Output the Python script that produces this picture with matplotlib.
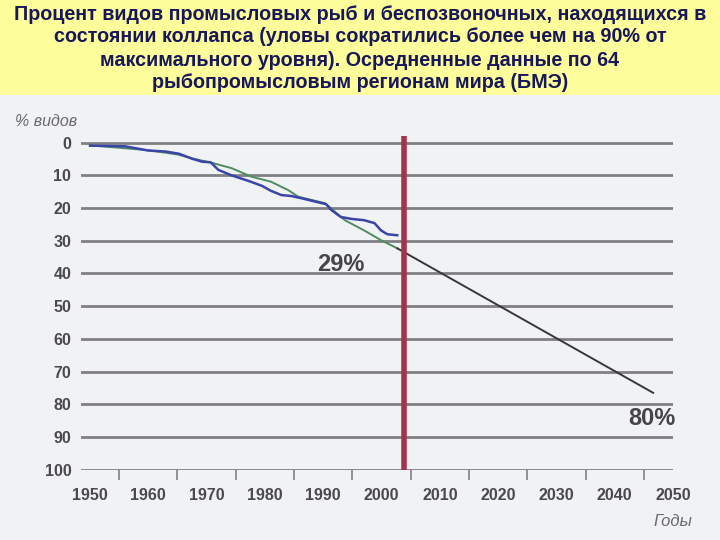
import matplotlib
matplotlib.use("Agg")
import matplotlib.pyplot as plt
from matplotlib.patches import Rectangle

# ------------------ fonts ------------------
plt.rcParams['font.family'] = ['Liberation Sans Narrow', 'Liberation Sans', 'DejaVu Sans']

# ------------------ data ------------------
title_lines = [
    "Процент видов промысловых рыб и беспозвоночных, находящихся в",
    "состоянии коллапса (уловы сократились более чем на 90% от",
    "максимального уровня). Осредненные данные по 64",
    "рыбопромысловым регионам мира (БМЭ)",
]

# observed (blue)
obs_years = [1950, 1956, 1960, 1963, 1965.3, 1967.5, 1969.2, 1970.7, 1972, 1974.3,
             1977.2, 1979.5, 1981, 1982.8, 1984.5, 1986.3, 1988.6, 1990.5, 1991.4,
             1993, 1994.8, 1997, 1998.8, 1999.9, 2001, 2002.7]
obs_pct = [0.9, 1.1, 2.4, 2.7, 3.4, 4.9, 5.8, 6.0, 8.3, 10.0,
           11.7, 13.2, 14.7, 16.0, 16.3, 17.0, 18.0, 18.8, 20.6,
           22.7, 23.3, 23.7, 24.6, 26.8, 28.0, 28.3]

# model fit (green)
fit_years = [1950, 1960, 1965, 1968, 1971, 1974.3, 1977.7, 1981, 1984, 1985.7,
             1990.3, 1993.7, 1997, 1999.9, 2002.7]
fit_pct = [0.8, 2.3, 3.6, 5.0, 6.2, 7.8, 10.4, 11.9, 14.5, 16.5,
           18.5, 23.7, 26.8, 29.8, 32.3]

# projection (dark)
proj_years = [2002.7, 2046.6]
proj_pct = [32.3, 76.5]

now_year = 2003.8
y_ticks = [0, 10, 20, 30, 40, 50, 60, 70, 80, 90, 100]
x_ticks = [1950, 1960, 1970, 1980, 1990, 2000, 2010, 2020, 2030, 2040, 2050]
x_minor = [1955, 1960, 1965, 1970, 1975, 1980, 1985, 1990, 1995, 2000, 2005,
           2010, 2015, 2020, 2025, 2030, 2035, 2040, 2045]

# ------------------ figure ------------------
fig = plt.figure(figsize=(7.2, 5.4), dpi=100)
fig.patch.set_facecolor("#f1f2f4")

# yellow title band
fig.patches.append(Rectangle((0, 1 - 95 / 540), 1, 95 / 540, transform=fig.transFigure,
                             facecolor="#fdfd9c", edgecolor="none", zorder=0))
for i, line in enumerate(title_lines):
    fig.text(0.5, 1 - (14 + 23 * i) / 540, line, ha="center", va="center",
             fontsize=14.2, fontweight="bold", color="#17175a")

ax = fig.add_axes([81 / 720, 1 - 470 / 540, (673 - 81) / 720, (470 - 136) / 540])
ax.set_facecolor("none")
ax.set_xlim(1948.45, 2050)
ax.set_ylim(100.1, -2.05)

for v in y_ticks:
    ax.axhline(v, color="#808084", lw=2.0, zorder=1)

ax.plot(fit_years, fit_pct, color="#4f8c62", lw=1.4, zorder=3)
ax.plot(proj_years, proj_pct, color="#38383c", lw=1.4, zorder=3)
ax.plot(obs_years, obs_pct, color="#3b45a8", lw=1.8, zorder=4)
ax.axvline(now_year, color="#a3334f", lw=4, zorder=5)

ax.text(1997.0, 37.2, "29%", ha="right", va="center", fontsize=17,
        fontweight="bold", color="#454548")
ax.text(2050.5, 84.3, "80%", ha="right", va="center", fontsize=17,
        fontweight="bold", color="#454548")

for s in ax.spines.values():
    s.set_visible(False)

ax.set_yticks(y_ticks)
ax.set_yticklabels([str(v) for v in y_ticks], fontsize=11.5, fontweight="bold", color="#4a4a4e")
ax.tick_params(axis="y", length=0, pad=7)

ax.set_xticks(x_ticks)
ax.set_xticklabels([str(v) for v in x_ticks], fontsize=11.5, fontweight="bold", color="#4a4a4e")
ax.set_xticks(x_minor, minor=True)
ax.tick_params(axis="x", which="major", length=0, pad=13)
ax.tick_params(axis="x", which="minor", length=7, width=1.2, color="#808084", direction="out")

fig.text(15 / 720, 1 - 121 / 540, "% видов", ha="left", va="center", fontsize=11.5,
         style="italic", color="#6a6a70")
fig.text(692 / 720, 1 - 522 / 540, "Годы", ha="right", va="center", fontsize=12,
         style="italic", color="#6a6a70")

plt.savefig("out.png", dpi=100, facecolor=fig.get_facecolor())
